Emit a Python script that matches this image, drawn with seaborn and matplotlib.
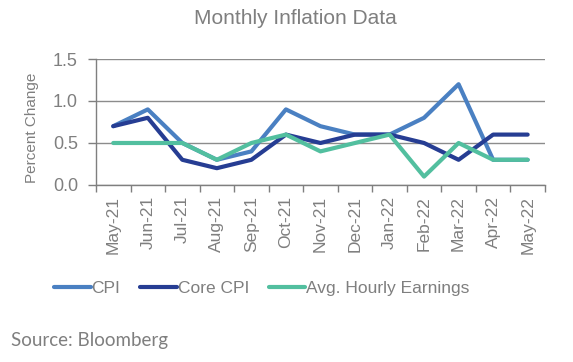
import pandas as pd
import seaborn as sns
import matplotlib.pyplot as plt
from matplotlib.ticker import FixedLocator

months = ["May-21", "Jun-21", "Jul-21", "Aug-21", "Sep-21", "Oct-21", "Nov-21",
          "Dec-21", "Jan-22", "Feb-22", "Mar-22", "Apr-22", "May-22"]
cpi = [0.7, 0.9, 0.5, 0.3, 0.4, 0.9, 0.7, 0.6, 0.6, 0.8, 1.2, 0.3, 0.3]
core_cpi = [0.7, 0.8, 0.3, 0.2, 0.3, 0.6, 0.5, 0.6, 0.6, 0.5, 0.3, 0.6, 0.6]
avg_hourly = [0.5, 0.5, 0.5, 0.3, 0.5, 0.6, 0.4, 0.5, 0.6, 0.1, 0.5, 0.3, 0.3]

series_names = ["CPI", "Core CPI", "Avg. Hourly Earnings"]
colors = ["#4a80c2", "#263d93", "#52bf9f"]
GRAY = "#7f7f7f"

df = pd.DataFrame({
    "month": months * 3,
    "pos": list(range(len(months))) * 3,
    "value": cpi + core_cpi + avg_hourly,
    "series": [s for s in series_names for _ in months],
})

sns.set_style("white")
plt.rcParams['font.family'] = ['Liberation Sans', 'DejaVu Sans']

fig = plt.figure(figsize=(5.73, 3.62), dpi=100)
ax = fig.add_axes([0.1675, 0.489, 0.7835, 0.348])

sns.lineplot(data=df, x="pos", y="value", hue="series", hue_order=series_names,
             palette=colors, linewidth=3, ax=ax, legend=False)

ax.set_xlim(-0.5, len(months) - 0.5)
ax.set_ylim(0, 1.5)
ax.set_yticks([0.0, 0.5, 1.0, 1.5])
ax.set_yticklabels(["0.0", "0.5", "1.0", "1.5"])
ax.yaxis.grid(True, color="#8c8c8c", linewidth=1)
ax.set_axisbelow(True)

ax.set_xticks(range(len(months)))
ax.set_xticklabels(months, rotation=90)
ax.xaxis.set_minor_locator(FixedLocator([i + 0.5 for i in range(-1, len(months))]))
ax.tick_params(axis="x", which="major", length=0, pad=8, labelsize=12.5, labelcolor=GRAY)
ax.tick_params(axis="x", which="minor", length=5, width=1, color=GRAY, direction="out", bottom=True)
ax.tick_params(axis="y", length=6, width=1, color=GRAY, labelsize=13, labelcolor=GRAY, pad=7, left=True)

for side in ["top", "right"]:
    ax.spines[side].set_visible(False)
for side in ["left", "bottom"]:
    ax.spines[side].set_color(GRAY)
    ax.spines[side].set_linewidth(1)

ax.set_xlabel("")
ax.set_ylabel("Percent Change", color=GRAY, fontsize=11)
ax.yaxis.set_label_coords(-0.126, 0.45)

fig.suptitle("Monthly Inflation Data", x=0.515, y=0.975, fontsize=15, color=GRAY)

handles = [plt.Line2D([], [], color=c, linewidth=3) for c in colors]
fig.legend(handles, series_names, loc="center", bbox_to_anchor=(0.457, 0.202), ncol=3,
           frameon=False, fontsize=12.5, labelcolor=GRAY, handlelength=2.1,
           handletextpad=0.05, columnspacing=1.15)

fig.text(0.02, 0.044, "Source: Bloomberg", fontsize=13.5, color=GRAY, family=["Lato", "DejaVu Sans"])

fig.savefig("out.png", dpi=100)
